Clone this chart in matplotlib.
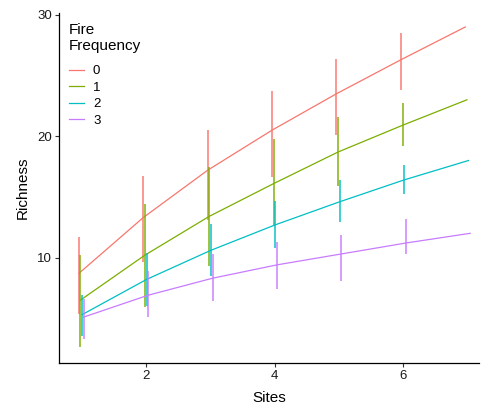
import matplotlib
matplotlib.use("Agg")
import matplotlib.pyplot as plt
import numpy as np

# fire frequency groups and ggplot-style hue colours
groups = ["0", "1", "2", "3"]
colors = ["#F8766D", "#7CAE00", "#00BFC4", "#C77CFF"]

# fitted richness curves, read at sites 1..7
curve_sites = [1, 2, 3, 4, 5, 6, 7]
curve_0 = [8.7, 13.3, 17.2, 20.5, 23.5, 26.3, 29.0]
curve_1 = [6.5, 10.2, 13.4, 16.1, 18.7, 20.9, 23.0]
curve_2 = [5.3, 8.2, 10.6, 12.7, 14.6, 16.4, 18.0]
curve_3 = [5.1, 6.9, 8.3, 9.4, 10.3, 11.2, 12.0]

# observed ranges per site (low / high)
range_sites = [1, 2, 3, 4, 5, 6]
low_0 = [5.35, 9.6, 13.1, 16.6, 20.1, 23.8]
high_0 = [11.7, 16.7, 20.5, 23.7, 26.4, 28.5]
low_1 = [2.6, 5.9, 9.3, 12.6, 15.9, 19.2]
high_1 = [10.2, 14.4, 17.5, 19.8, 21.6, 22.7]
low_2 = [3.55, 6.0, 8.5, 10.8, 12.95, 15.2]
high_2 = [6.9, 10.4, 12.8, 14.7, 16.4, 17.6]
low_3 = [3.3, 5.07, 6.45, 7.4, 8.07, 10.3]
high_3 = [6.6, 8.9, 10.3, 11.3, 11.9, 13.2]

curves = [curve_0, curve_1, curve_2, curve_3]
lows = [low_0, low_1, low_2, low_3]
highs = [high_0, high_1, high_2, high_3]
dodge = [-0.0375, -0.0125, 0.0125, 0.0375]

plt.rcParams["font.family"] = ["Liberation Sans", "DejaVu Sans"]

fig = plt.figure(figsize=(4.83, 4.08), dpi=100)
ax = fig.add_axes([0.1215, 0.111, 0.8702, 0.858])

for g, col, cv, lo, hi, d in zip(groups, colors, curves, lows, highs, dodge):
    xs = np.array(range_sites) + d
    ax.vlines(xs, lo, hi, color=col, lw=1.4, alpha=0.75)
    ax.plot(np.array(curve_sites) + d, cv, color=col, lw=0.9, label=g)

ax.set_xlim(0.649, 7.175)
ax.set_ylim(1.34, 30.18)
ax.set_xticks([2, 4, 6])
ax.set_yticks([10, 20, 30])
for s in ("top", "right"):
    ax.spines[s].set_visible(False)
for s in ("left", "bottom"):
    ax.spines[s].set_linewidth(0.9)
ax.tick_params(length=3, width=0.8, labelsize=9.5, colors="#333333",
               labelcolor="#1a1a1a", pad=2)

ax.set_xlabel("Sites", fontsize=11, labelpad=7)
ax.set_ylabel("Richness", fontsize=11, labelpad=5)

leg = ax.legend(title="Fire\nFrequency", loc="upper left",
                bbox_to_anchor=(0.0, 1.0), frameon=False, fontsize=9.5,
                title_fontsize=11, handlelength=1.1, handletextpad=0.7,
                labelspacing=0.32, borderaxespad=0.4, alignment="left")
# a bit more room between the title and the keys, like ggplot
leg._legend_box.sep = 8.5

fig.savefig("out.png", dpi=100)
